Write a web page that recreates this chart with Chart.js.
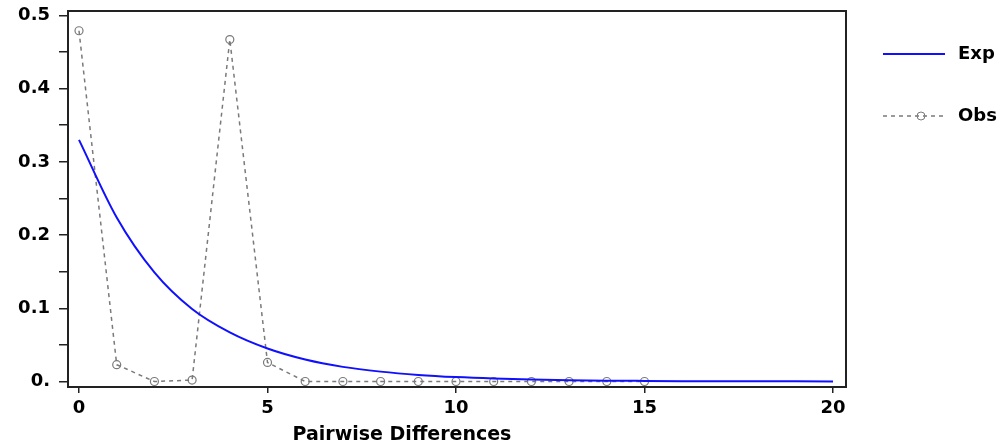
<!DOCTYPE html>
<html>
<head>
<meta charset="utf-8">
<script src="https://cdn.jsdelivr.net/npm/chart.js@4"></script>
<style>
  html, body { margin: 0; padding: 0; background: #fff; }
  #wrap { width: 1007px; height: 448px; }
</style>
</head>
<body>
<div id="wrap"><canvas id="chart"></canvas></div>
<script>
// pairwise differences (x) and the two series
var diffs = [0, 1, 2, 3, 4, 5, 6, 7, 8, 9, 10, 11, 12, 13, 14, 15, 16, 17, 18, 19, 20];
var expected = [0.330, 0.224, 0.149, 0.099, 0.067, 0.045, 0.030, 0.020, 0.0135, 0.009, 0.006,
                0.004, 0.0027, 0.0018, 0.0012, 0.0008, 0.0005, 0.0004, 0.0002, 0.0002, 0.0001];
var observed = [0.479, 0.023, 0.0, 0.002, 0.467, 0.026, 0, 0, 0, 0, 0, 0, 0, 0, 0, 0];

var xTicks = [0, 5, 10, 15, 20];
var yTicks = [0, 0.05, 0.1, 0.15, 0.2, 0.25, 0.3, 0.35, 0.4, 0.45, 0.5];
var yLabels = {'0': '0.', '0.1': '0.1', '0.2': '0.2', '0.3': '0.3', '0.4': '0.4', '0.5': '0.5'};
var xTitle = 'Pairwise Differences';

var FONT = 'DejaVu Sans';

function pts(xs, ys) {
  var out = [];
  for (var i = 0; i < ys.length; i++) out.push({x: xs[i], y: ys[i]});
  return out;
}

// box around the plot, axis title and legend on the right
var framePlugin = {
  id: 'frame',
  afterDraw: function(chart) {
    var ctx = chart.ctx, a = chart.chartArea;
    ctx.save();
    ctx.strokeStyle = '#222';
    ctx.lineWidth = 2;
    ctx.strokeRect(a.left, a.top, a.right - a.left, a.bottom - a.top);

    ctx.fillStyle = '#000';
    ctx.font = 'bold 19px ' + FONT;
    ctx.textAlign = 'center';
    ctx.textBaseline = 'middle';
    ctx.fillText(xTitle, 402, 435);

    var rows = [54, 116];
    chart.data.datasets.forEach(function(ds, i) {
      var y = rows[i];
      ctx.strokeStyle = ds.borderColor;
      ctx.lineWidth = ds.borderWidth;
      ctx.setLineDash(ds.borderDash || []);
      ctx.beginPath();
      ctx.moveTo(883, y);
      ctx.lineTo(945, y);
      ctx.stroke();
      ctx.setLineDash([]);
      if (ds.pointRadius > 0) {
        ctx.beginPath();
        ctx.arc(921, y, ds.pointRadius, 0, Math.PI * 2);
        ctx.strokeStyle = ds.pointBorderColor;
        ctx.lineWidth = 1;
        ctx.stroke();
      }
      ctx.fillStyle = '#000';
      ctx.font = 'bold 18px ' + FONT;
      ctx.textAlign = 'left';
      ctx.textBaseline = 'middle';
      ctx.fillText(ds.label, 958, y);
    });
    ctx.restore();
  }
};

new Chart(document.getElementById('chart'), {
  type: 'line',
  data: {
    datasets: [
      {
        label: 'Exp',
        data: pts(diffs, expected),
        borderColor: '#1010ff',
        borderWidth: 2,
        pointRadius: 0,
        cubicInterpolationMode: 'monotone'
      },
      {
        label: 'Obs',
        data: pts(diffs, observed),
        borderColor: '#7a7a7a',
        borderWidth: 1.5,
        borderDash: [4, 4],
        pointRadius: 4,
        pointBorderColor: '#7a7a7a',
        pointBackgroundColor: 'rgba(0,0,0,0)',
        pointBorderWidth: 1.2,
        tension: 0
      }
    ]
  },
  options: {
    responsive: true,
    maintainAspectRatio: false,
    animation: false,
    layout: { padding: { left: 0, top: 11, right: 161, bottom: 0 } },
    plugins: { legend: { display: false }, tooltip: { enabled: false } },
    scales: {
      x: {
        type: 'linear',
        min: -0.292,
        max: 20.345,
        afterBuildTicks: function(s) { s.ticks = xTicks.map(function(v) { return {value: v}; }); },
        afterFit: function(s) { s.height = 61; s.paddingLeft = 0; s.paddingRight = 0; },
        grid: { drawOnChartArea: false, drawTicks: true, tickLength: 6, color: '#222', lineWidth: 1.5 },
        border: { display: false },
        ticks: { color: '#000', padding: 5, maxRotation: 0, font: { family: FONT, size: 18, weight: 'bold' } }
      },
      y: {
        min: -0.0075,
        max: 0.506,
        afterBuildTicks: function(s) { s.ticks = yTicks.map(function(v) { return {value: v}; }); },
        afterFit: function(s) { s.width = 68; s.paddingTop = 0; s.paddingBottom = 0; },
        grid: { drawOnChartArea: false, drawTicks: true, tickLength: 9, color: '#222', lineWidth: 1.5 },
        border: { display: false },
        ticks: {
          color: '#000', padding: 9,
          font: { family: FONT, size: 18, weight: 'bold' },
          callback: function(v) {
            var k = String(Math.round(v * 100) / 100);
            return yLabels[k] !== undefined ? yLabels[k] : '';
          }
        }
      }
    }
  },
  plugins: [framePlugin]
});
</script>
</body>
</html>
